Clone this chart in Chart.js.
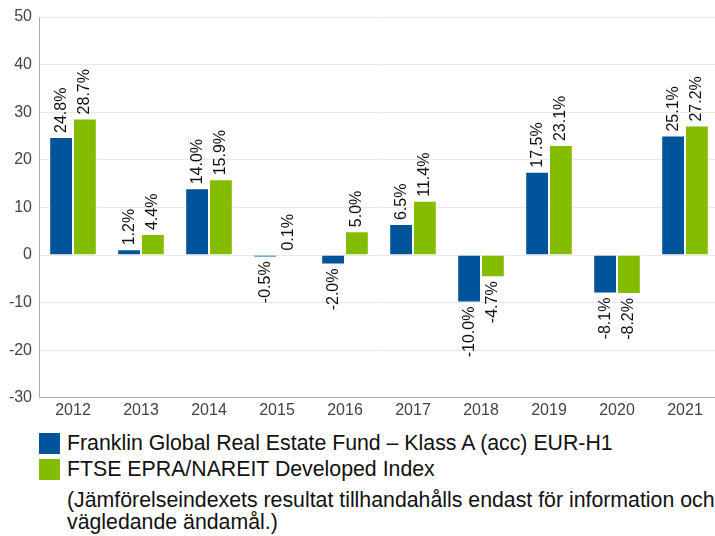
<!DOCTYPE html>
<html>
<head>
<meta charset="utf-8">
<script src="https://cdn.jsdelivr.net/npm/chart.js@4/dist/chart.umd.min.js"></script>
<style>
  html, body { margin: 0; padding: 0; background: #fff; width: 715px; height: 536px; overflow: hidden; }
  #wrap { position: relative; width: 715px; height: 536px; overflow: hidden; font-family: "Liberation Sans", Arial, sans-serif; }
  #chartBox { position: absolute; left: 0; top: 0; width: 720px; height: 430px; }
  .leg { position: absolute; left: 39px; display: flex; align-items: center; font-size: 21.3px; color: #111; white-space: nowrap; }
  .sw { width: 21px; height: 21px; margin-right: 7px; flex: none; }
  #note { position: absolute; left: 67px; top: 489px; font-size: 21.3px; line-height: 22px; color: #111; white-space: nowrap; }
</style>
</head>
<body>
<div id="wrap">
  <div id="chartBox"><canvas id="c" width="720" height="430"></canvas></div>
  <div class="leg" id="leg1" style="top:431px"><div class="sw" style="background:#00549A"></div><span id="lab1"></span></div>
  <div class="leg" id="leg2" style="top:457px"><div class="sw" style="background:#84BD00"></div><span id="lab2"></span></div>
  <div id="note">(Jämförelseindexets resultat tillhandahålls endast för information och<br>vägledande ändamål.)</div>
</div>
<script>
const categories = ["2012","2013","2014","2015","2016","2017","2018","2019","2020","2021"];
const seriesNames = ["Franklin Global Real Estate Fund – Klass A (acc) EUR-H1", "FTSE EPRA/NAREIT Developed Index"];
const fundValues = [24.8, 1.2, 14.0, -0.5, -2.0, 6.5, -10.0, 17.5, -8.1, 25.1];
const indexValues = [28.7, 4.4, 15.9, 0.1, 5.0, 11.4, -4.7, 23.1, -8.2, 27.2];
const yTicks = [-30, -20, -10, 0, 10, 20, 30, 40, 50];
const colors = ["#00549A", "#84BD00"];

document.getElementById('lab1').textContent = seriesNames[0];
document.getElementById('lab2').textContent = seriesNames[1];

const labelPlugin = {
  id: 'vlabels',
  afterDatasetsDraw(chart) {
    const ctx = chart.ctx;
    ctx.save();
    ctx.font = '16px "Liberation Sans", Arial, sans-serif';
    ctx.fillStyle = '#111';
    chart.data.datasets.forEach((ds, di) => {
      const meta = chart.getDatasetMeta(di);
      meta.data.forEach((bar, i) => {
        const v = ds.data[i];
        const txt = v.toFixed(1) + '%';
        ctx.save();
        ctx.translate(bar.x, bar.y);
        ctx.rotate(-Math.PI / 2);
        ctx.textBaseline = 'middle';
        if (v >= 0) {
          ctx.textAlign = 'left';
          ctx.fillText(txt, 4, 0);
        } else {
          ctx.textAlign = 'right';
          ctx.fillText(txt, -4, 0);
        }
        ctx.restore();
      });
    });
    ctx.restore();
  }
};

new Chart(document.getElementById('c'), {
  type: 'bar',
  data: {
    labels: categories,
    datasets: [
      { label: seriesNames[0], data: fundValues, backgroundColor: colors[0], borderColor: 'rgba(255,255,255,0.6)', borderWidth: 1 },
      { label: seriesNames[1], data: indexValues, backgroundColor: colors[1], borderColor: 'rgba(255,255,255,0.6)', borderWidth: 1 }
    ]
  },
  options: {
    responsive: false,
    animation: false,
    devicePixelRatio: 1,
    layout: { padding: { top: 17, right: 1, bottom: 7, left: 0 } },
    plugins: { legend: { display: false }, tooltip: { enabled: false } },
    datasets: { bar: { categoryPercentage: 0.7, barPercentage: 1.0 } },
    scales: {
      x: {
        grid: { display: false, drawTicks: false },
        border: { display: true, color: '#aaa', width: 1 },
        ticks: { color: '#444', font: { size: 16, family: '"Liberation Sans", Arial, sans-serif' }, padding: 3, maxRotation: 0 }
      },
      y: {
        min: -30, max: 50,
        afterBuildTicks: (s) => { s.ticks = yTicks.map(v => ({ value: v })); },
        afterFit: (s) => { s.width = 39; },
        grid: { color: '#e8e8e8', drawTicks: false, lineWidth: 1 },
        border: { display: true, color: '#aaa', width: 1 },
        ticks: { color: '#444', font: { size: 16, family: '"Liberation Sans", Arial, sans-serif' }, padding: 7 }
      }
    }
  },
  plugins: [labelPlugin]
});
</script>
</body>
</html>
